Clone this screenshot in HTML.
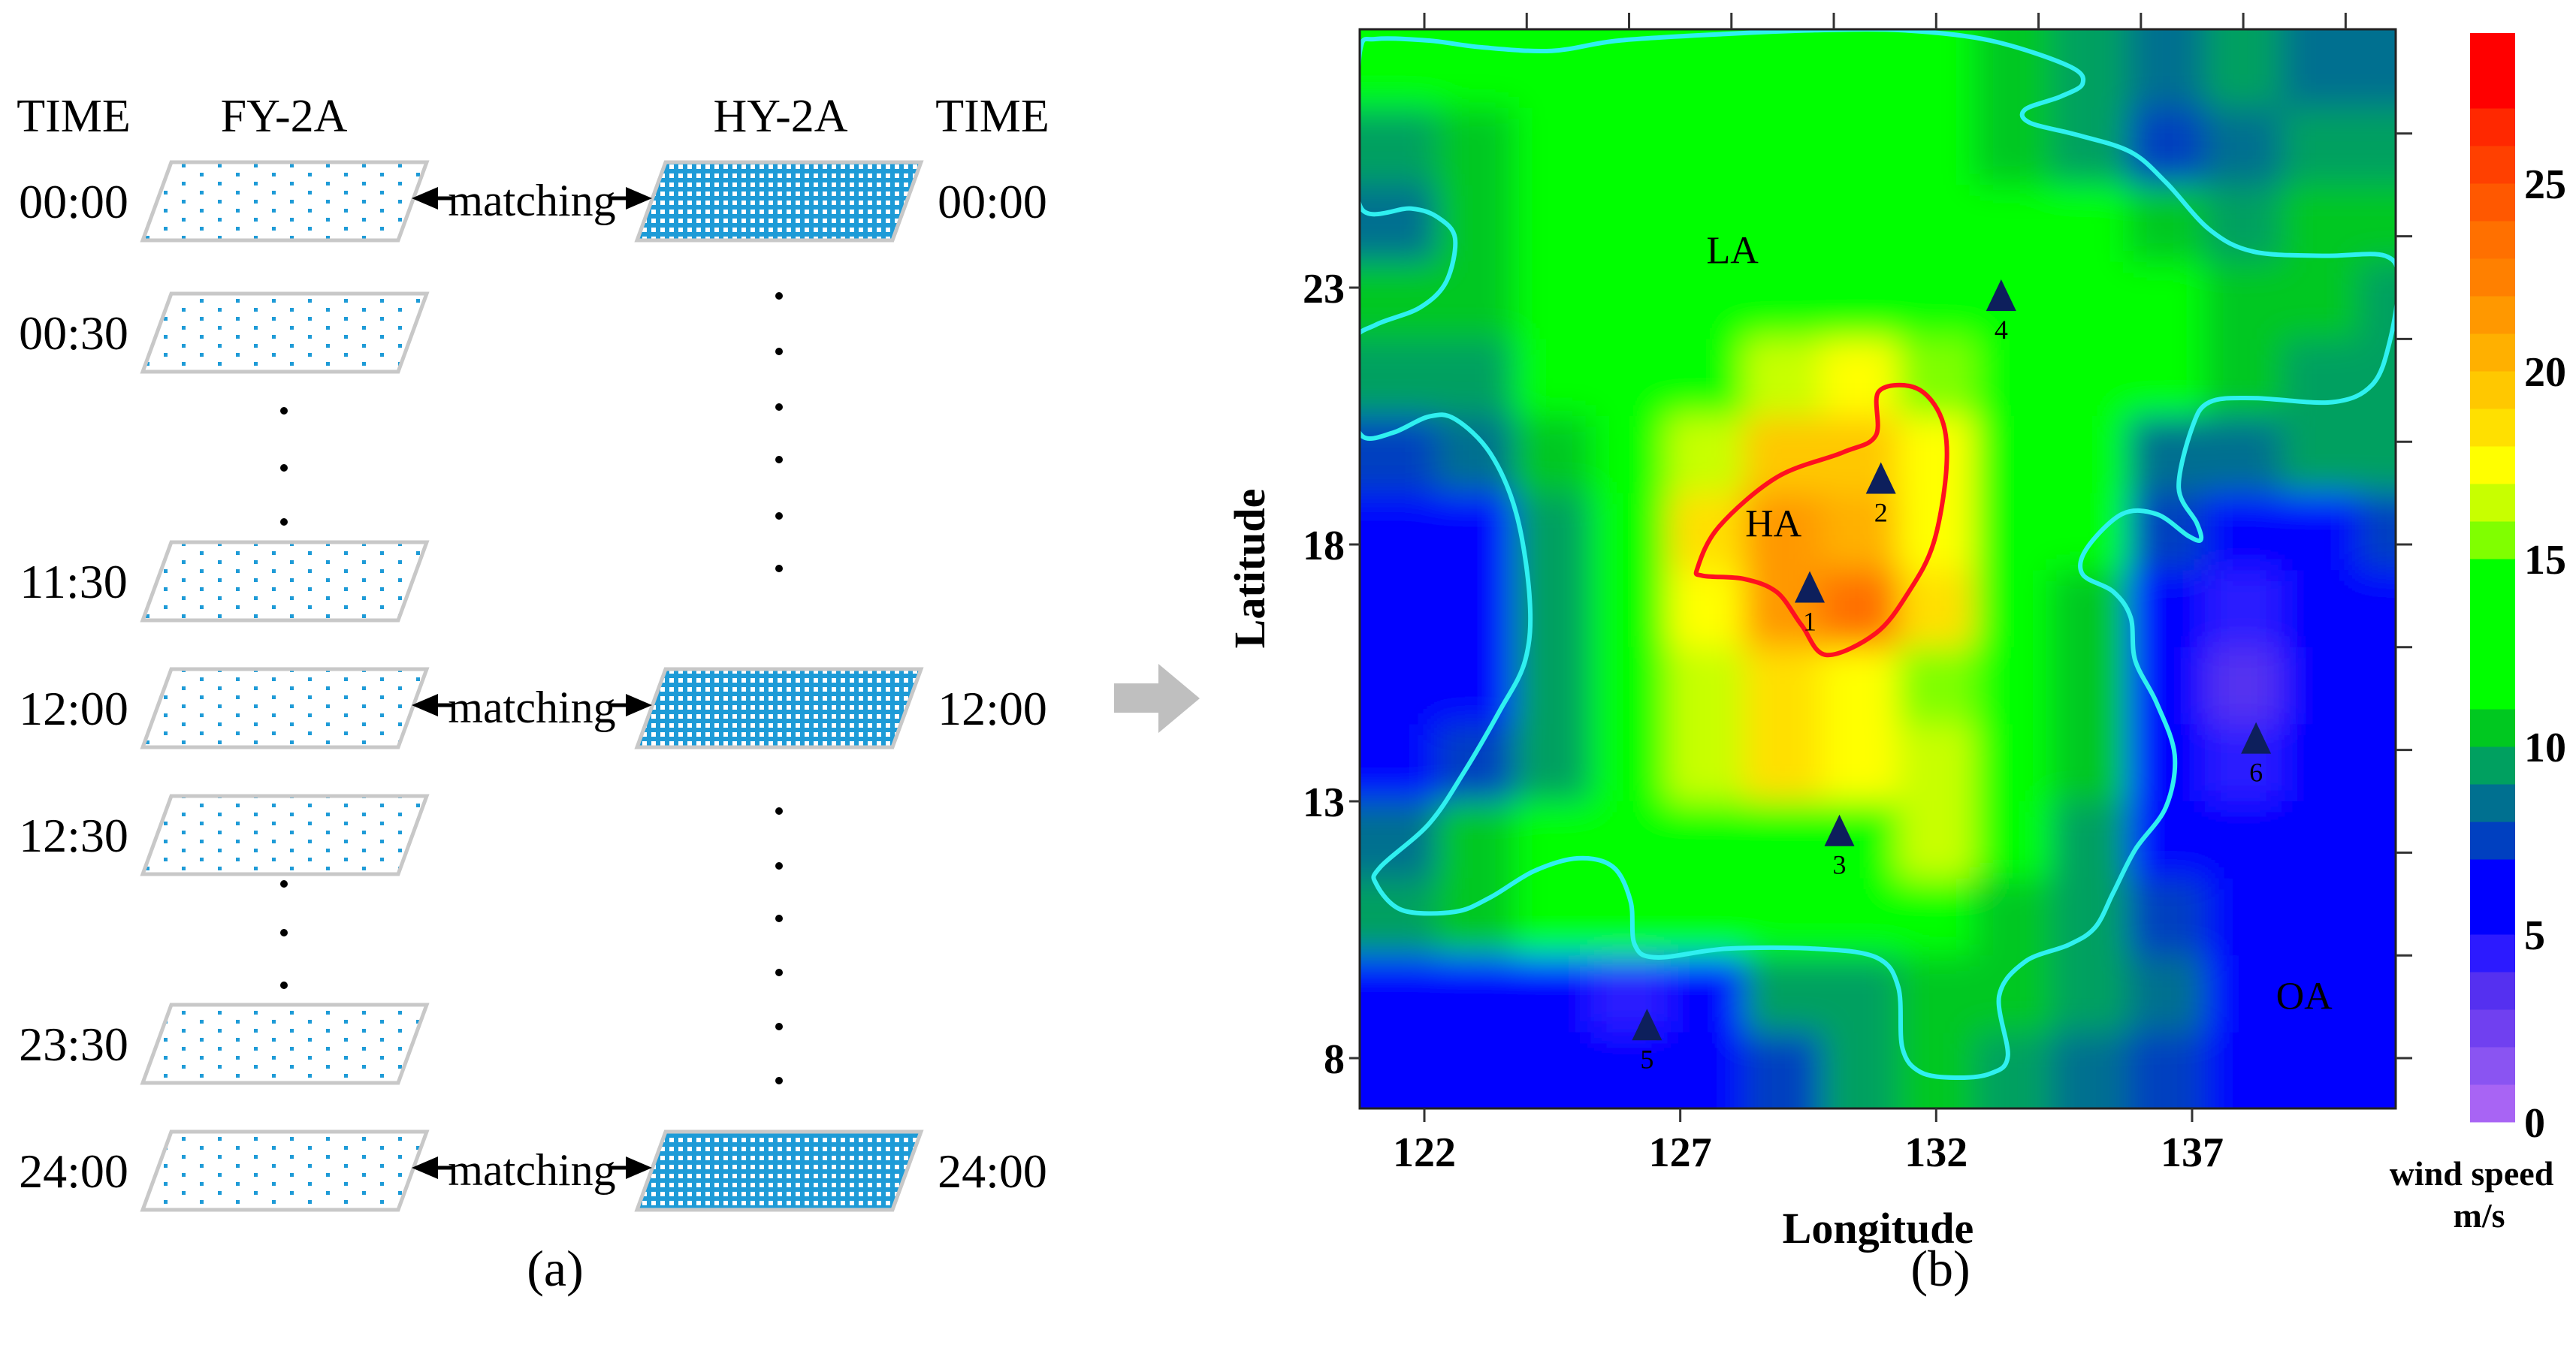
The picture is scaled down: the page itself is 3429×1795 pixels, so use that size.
<!DOCTYPE html>
<html><head><meta charset="utf-8"><style>
html,body{margin:0;padding:0;background:#fff;}
svg{display:block;}
.serif{font-family:"Liberation Serif",serif;}
</style></head><body>
<svg id="fig" width="3429" height="1795" viewBox="0 0 3429 1795" xmlns="http://www.w3.org/2000/svg">
<defs>
<pattern id="fyDots" patternUnits="userSpaceOnUse" width="48" height="24" x="0" y="0">
<rect x="2" y="2" width="5" height="5" fill="#1e9bd7"/><rect x="26" y="14" width="5" height="5" fill="#1e9bd7"/>
</pattern>
<pattern id="hyDots" patternUnits="userSpaceOnUse" width="12" height="12">
<rect width="12" height="12" fill="#1e9bd7"/><rect x="3" y="3" width="6" height="6" fill="#ffffff"/>
</pattern>
<clipPath id="plotClip"><rect x="1810" y="39" width="1379" height="1437"/></clipPath>
<filter id="soft" x="-10%" y="-10%" width="120%" height="120%"><feGaussianBlur stdDeviation="22"/></filter>
</defs>
<g id="panelA" class="serif"></g>
<g id="arrowMid">
<polygon points="1483,910 1542,910 1542,884 1597,930 1542,976 1542,949 1483,949" fill="#bfbfbf"/>
</g>
<g id="panelB"></g>
<text x="739" y="1712" font-size="68" text-anchor="middle" class="serif">(a)</text>
<text x="2583" y="1712" font-size="68" text-anchor="middle" class="serif">(b)</text>
</svg>
<script>
// ---------- Panel (a) data ----------
const fyTimes = ["00:00","00:30","11:30","12:00","12:30","23:30","24:00"];
const hyTimes = ["00:00","12:00","24:00"];
const hyRowIdx = [0,3,6];
// ---------- Panel (b) data ----------
const lonTicks = [122,127,132,137];
const latTicks = [8,13,18,23];
const cbTicks = [0,5,10,15,20,25];
const gridLons = [121.5,123,124.5,126,127.5,129,130.5,132,133.5,135,136.5,138,139.5,141];
const gridLats = [27.25,25.75,24.25,22.75,21.25,19.75,18.25,16.75,15.25,13.75,12.25,10.75,9.25,7.75];
const windRow0  = [11,12,12,11,13,13,12,11,10,9,8,9,8,8];
const windRow1  = [9,10,11,12,13,13,12,11,10,9,7,8,9,9];
const windRow2  = [8,10,11,12,13,13,13,12,12,11,10,9,10,10];
const windRow3  = [10,10,11,12,13,13,13,13,12,11,11,10,10,9];
const windRow4  = [9,9,11,12,14,16,17,15,13,12,11,10,9,9];
const windRow5  = [7,8,10,12,16,19,19,17,13,12,8,8,9,9];
const windRow6  = [6,6,9,12,18,21,20,17,13,11,7,5,6,7];
const windRow7  = [6,6,9,13,17,21,23,18,13,10,6,4,5,6];
const windRow8  = [6,6,9,13,16,18,17,15,13,10,6,3,5,6];
const windRow9  = [6,7,9,12,16,18,17,16,12,10,6,4,5,6];
const windRow10 = [8,10,11,12,13,14,14,16,11,9,6,6,6,6];
const windRow11 = [9,10,11,11,12,13,12,11,10,9,7,6,6,6];
const windRow12 = [6,6,6,4,6,9,9,10,10,9,8,6,6,6];
const windRow13 = [6,6,6,5,6,7,9,10,9,8,7,6,6,6];
const windRows = [windRow0,windRow1,windRow2,windRow3,windRow4,windRow5,windRow6,windRow7,windRow8,windRow9,windRow10,windRow11,windRow12,windRow13];
const cbLevels = [0,1,2,3,4,5,7,8,9,10,11,15,16,17,18,19,20,21,22,23,24,25,26,27];
const cbColors = ["#a864f4","#8a54f2","#7040f0","#5530f0","#2c1aff","#0000ff","#0040c0","#007090","#00a060","#00c820","#00ff00","#80ff00","#c8ff00","#ffff00","#ffe000","#ffc800","#ffb000","#ff9800","#ff8000","#ff7000","#ff5800","#ff4000","#ff2800","#ff0000"];
const cbMax = 29;
const highArea = [[127.34,17.55],[127.76,18.35],[128.89,19.31],[130.17,19.79],[130.82,20.12],[130.88,20.98],[131.62,21.04],[132.11,20.44],[132.20,19.47],[131.95,18.03],[131.46,17.07],[130.82,16.27],[129.85,15.85],[129.37,16.43],[128.89,17.07],[128.24,17.33],[127.44,17.39]];
const lowArea = [[120.75,27.64],[121.06,27.84],[122.09,27.81],[123.11,27.68],[124.49,27.61],[125.80,27.81],[127.91,27.94],[129.63,28.01],[131.34,28.01],[133.06,27.81],[134.60,27.31],[134.86,26.97],[134.43,26.72],[133.74,26.47],[133.83,26.21],[134.77,25.97],[135.80,25.64],[136.49,25.05],[137.34,24.13],[138.20,23.70],[139.57,23.62],[140.77,23.62],[141.03,23.12],[140.86,21.94],[140.52,21.11],[139.74,20.77],[138.20,20.85],[137.34,20.77],[137.00,20.27],[136.74,19.10],[137.09,18.42],[137.17,18.09],[136.92,18.17],[136.31,18.59],[135.63,18.59],[134.94,17.92],[134.86,17.42],[135.46,17.08],[135.80,16.58],[135.89,15.74],[136.31,14.91],[136.66,13.90],[136.49,12.89],[135.89,12.06],[135.46,11.22],[135.11,10.55],[134.60,10.21],[133.74,9.88],[133.23,9.21],[133.40,8.04],[133.06,7.70],[132.37,7.62],[131.69,7.73],[131.34,8.20],[131.26,9.38],[130.83,9.96],[129.63,10.13],[127.91,10.13],[126.54,9.96],[126.11,10.21],[126.03,11.05],[125.69,11.72],[125.00,11.89],[124.14,11.64],[123.29,11.13],[122.60,10.85],[121.57,10.88],[121.06,11.39],[121.14,11.72],[122.09,12.56],[122.77,13.56],[123.46,14.74],[123.97,15.74],[124.06,16.92],[123.80,18.59],[123.29,19.77],[122.60,20.44],[122.09,20.49],[121.40,20.18],[120.80,20.10],[120.58,20.77],[120.63,21.94],[121.06,22.28],[121.91,22.61],[122.43,23.12],[122.60,23.96],[122.26,24.37],[121.74,24.54],[120.77,24.54],[120.71,26.13]];
const stationIds = ["1","2","3","4","5","6"];
const stationLons = [129.53,130.92,130.11,133.27,126.35,138.25];
const stationLats = [17.13,19.25,12.39,22.81,8.61,14.19];
const regionNames = ["LA","HA","OA"];
const regionLons = [128.02,128.82,139.19];
const regionLats = [23.74,18.42,9.22];

const NS = "http://www.w3.org/2000/svg";
function mk(parent, tag, attrs, text){
  const e = document.createElementNS(NS, tag);
  for (const k in attrs) e.setAttribute(k, attrs[k]);
  if (text !== undefined) e.textContent = text;
  parent.appendChild(e); return e;
}
// ---------- Panel (a) ----------
const A = document.getElementById("panelA");
const rowTops = [216,391,722,891,1060,1338,1507];
const parH = 104, parW = 340, skew = 38;
function par(x0, top, fill, name){
  const pts = `${x0+skew},${top} ${x0+skew+parW},${top} ${x0+parW},${top+parH} ${x0},${top+parH}`;
  const p = mk(A, "polygon", {points: pts, fill: fill, stroke: "#c8c8c8", "stroke-width": 5});
  
  
}
const heads = [["TIME",98],["FY-2A",378],["HY-2A",1039],["TIME",1321]];
heads.forEach(h=>{
  const t = mk(A, "text", {x: h[1], y: 175, "font-size": 62, "text-anchor": "middle"}, h[0]);
  
  
});
fyTimes.forEach((tm, i)=>{
  const top = rowTops[i];
  par(190, top, "url(#fyDots)", "fy-2a-image");
  const t = mk(A, "text", {x: 98, y: top+parH/2+22, "font-size": 64, "text-anchor": "middle"}, tm);
  
  
});
hyTimes.forEach((tm, k)=>{
  const top = rowTops[hyRowIdx[k]];
  par(848, top, "url(#hyDots)", "hy-2a-image");
  const t = mk(A, "text", {x: 1321, y: top+parH/2+22, "font-size": 64, "text-anchor": "middle"}, tm);
  
  
  const cy = top + parH/2 - 4;
  const g = mk(A, "g", {});
  
  
  mk(g, "line", {x1: 575, y1: cy, x2: 605, y2: cy, stroke: "#000", "stroke-width": 5});
  mk(g, "line", {x1: 812, y1: cy, x2: 840, y2: cy, stroke: "#000", "stroke-width": 5});
  mk(g, "polygon", {points: `548,${cy} 583,${cy-15} 583,${cy+15}`, fill: "#000"});
  mk(g, "polygon", {points: `868,${cy} 833,${cy-15} 833,${cy+15}`, fill: "#000"});
  mk(g, "text", {x: 708, y: cy+23, "font-size": 60, "text-anchor": "middle"}, "matching");
});
[547,623,695,1177,1242,1312].forEach(y=>{
  const d = mk(A, "circle", {cx: 378, cy: y, r: 5, fill: "#000"});
  
  
});
[394,468,542,612,687,757,1080,1153,1223,1295,1367,1439].forEach(y=>{
  const d = mk(A, "circle", {cx: 1037, cy: y, r: 5, fill: "#000"});
  
  
});

// ---------- Panel (b) ----------
const B = document.getElementById("panelB");
const PL = 1810, PT = 39, PR = 3189, PB = 1476;
const xS = lon => 1896 + (lon - 122) * 68.13;
const yS = lat => 1409 - (lat - 8) * 68.4;
function colorFor(v){
  let c = cbColors[0];
  for (let i = 0; i < cbLevels.length; i++) if (v >= cbLevels[i]) c = cbColors[i];
  return c;
}
const heat = mk(B, "g", {"clip-path": "url(#plotClip)"});


mk(heat, "rect", {x: PL, y: PT, width: PR-PL, height: PB-PT, fill: "#1f9a3a"});
const blurG = mk(heat, "g", {filter: "url(#soft)"});
windRows.forEach((row, j)=>{
  row.forEach((v, i)=>{
    const lon = gridLons[i], lat = gridLats[j];
    const l0 = i === 0 ? lon - 4 : lon - 0.75, l1 = i === row.length-1 ? lon + 4 : lon + 0.75;
    const a1 = j === 0 ? lat + 4 : lat + 0.75, a0 = j === windRows.length-1 ? lat - 4 : lat - 0.75;
    const r = mk(blurG, "rect", {x: xS(l0), y: yS(a1), width: xS(l1)-xS(l0)+1, height: yS(a0)-yS(a1)+1, fill: colorFor(v)});
    
    
  });
});
function smoothPath(pts, closed){
  const P = pts.map(p=>[xS(p[0]), yS(p[1])]);
  const n = P.length;
  let d = `M${P[0][0].toFixed(1)},${P[0][1].toFixed(1)}`;
  const cnt = closed ? n : n - 1;
  for (let i = 0; i < cnt; i++){
    const p0 = P[(i-1+n)%n], p1 = P[i], p2 = P[(i+1)%n], p3 = P[(i+2)%n];
    const c1 = [p1[0]+(p2[0]-p0[0])/6, p1[1]+(p2[1]-p0[1])/6];
    const c2 = [p2[0]-(p3[0]-p1[0])/6, p2[1]-(p3[1]-p1[1])/6];
    d += ` C${c1[0].toFixed(1)},${c1[1].toFixed(1)} ${c2[0].toFixed(1)},${c2[1].toFixed(1)} ${p2[0].toFixed(1)},${p2[1].toFixed(1)}`;
  }
  return d + (closed ? "Z" : "");
}
const cg = mk(B, "g", {"clip-path": "url(#plotClip)"});
const cyan = mk(cg, "path", {d: smoothPath(lowArea, true), fill: "none", stroke: "#2ff0f0", "stroke-width": 6});


const red = mk(cg, "path", {d: smoothPath(highArea, true), fill: "none", stroke: "#ff1020", "stroke-width": 6});


stationIds.forEach((id, i)=>{
  const x = xS(stationLons[i]), y = yS(stationLats[i]);
  const g = mk(B, "g", {});
  
  
  mk(g, "polygon", {points: `${x},${y-24} ${x+20},${y+18} ${x-20},${y+18}`, fill: "#0d1f5c"});
  mk(g, "text", {x: x, y: y+55, "font-size": 36, "text-anchor": "middle", "font-family": "Liberation Serif, serif"}, id);
});
regionNames.forEach((nm, i)=>{
  const t = mk(B, "text", {x: xS(regionLons[i]), y: yS(regionLats[i])+18, "font-size": 52, "text-anchor": "middle", "font-family": "Liberation Serif, serif"}, nm);
  
  
});
const frame = mk(B, "rect", {x: PL, y: PT, width: PR-PL, height: PB-PT, fill: "none", stroke: "#222", "stroke-width": 3});


for (let lon = 122; lon <= 140; lon += 2){
  const t = mk(B, "line", {x1: xS(lon), y1: PT, x2: xS(lon), y2: PT-22, stroke: "#333", "stroke-width": 3});
  
  
}
for (let lat = 8; lat <= 26; lat += 2){
  const t = mk(B, "line", {x1: PR, y1: yS(lat), x2: PR+22, y2: yS(lat), stroke: "#333", "stroke-width": 3});
  
  
}
lonTicks.forEach(v=>{
  mk(B, "line", {x1: xS(v), y1: PB, x2: xS(v), y2: PB+18, stroke: "#333", "stroke-width": 3});
  const t = mk(B, "text", {x: xS(v), y: 1553, "font-size": 56, "font-weight": "bold", "text-anchor": "middle", "font-family": "Liberation Serif, serif"}, String(v));
  
  
});
latTicks.forEach(v=>{
  mk(B, "line", {x1: PL-14, y1: yS(v), x2: PL, y2: yS(v), stroke: "#333", "stroke-width": 3});
  const t = mk(B, "text", {x: 1790, y: yS(v)+20, "font-size": 56, "font-weight": "bold", "text-anchor": "end", "font-family": "Liberation Serif, serif"}, String(v));
  
  
});
const xt = mk(B, "text", {x: 2500, y: 1655, "font-size": 58, "font-weight": "bold", "text-anchor": "middle", "font-family": "Liberation Serif, serif"}, "Longitude");


const yt = mk(B, "text", {x: 0, y: 0, "font-size": 58, "font-weight": "bold", "text-anchor": "middle", "font-family": "Liberation Serif, serif", transform: "translate(1683,757) rotate(-90)"}, "Latitude");


// colorbar
const CBX = 3288, CBW = 60, CB0 = 1494, CBU = 50;
const cb = mk(B, "g", {});


cbLevels.forEach((lv, i)=>{
  const hi = i < cbLevels.length-1 ? cbLevels[i+1] : cbMax;
  const r = mk(cb, "rect", {x: CBX, y: CB0 - hi*CBU, width: CBW, height: (hi-lv)*CBU + 0.5, fill: cbColors[i]});
  
  
});
cbTicks.forEach(v=>{
  const t = mk(cb, "text", {x: 3360, y: CB0 - v*CBU + 20, "font-size": 56, "font-weight": "bold", "font-family": "Liberation Serif, serif"}, String(v));
  
  
});
const u1 = mk(cb, "text", {x: 3290, y: 1578, "font-size": 46, "font-weight": "bold", "text-anchor": "middle", "font-family": "Liberation Serif, serif"}, "wind speed");


const u2 = mk(cb, "text", {x: 3300, y: 1634, "font-size": 46, "font-weight": "bold", "text-anchor": "middle", "font-family": "Liberation Serif, serif"}, "m/s");


</script>
</body></html>
